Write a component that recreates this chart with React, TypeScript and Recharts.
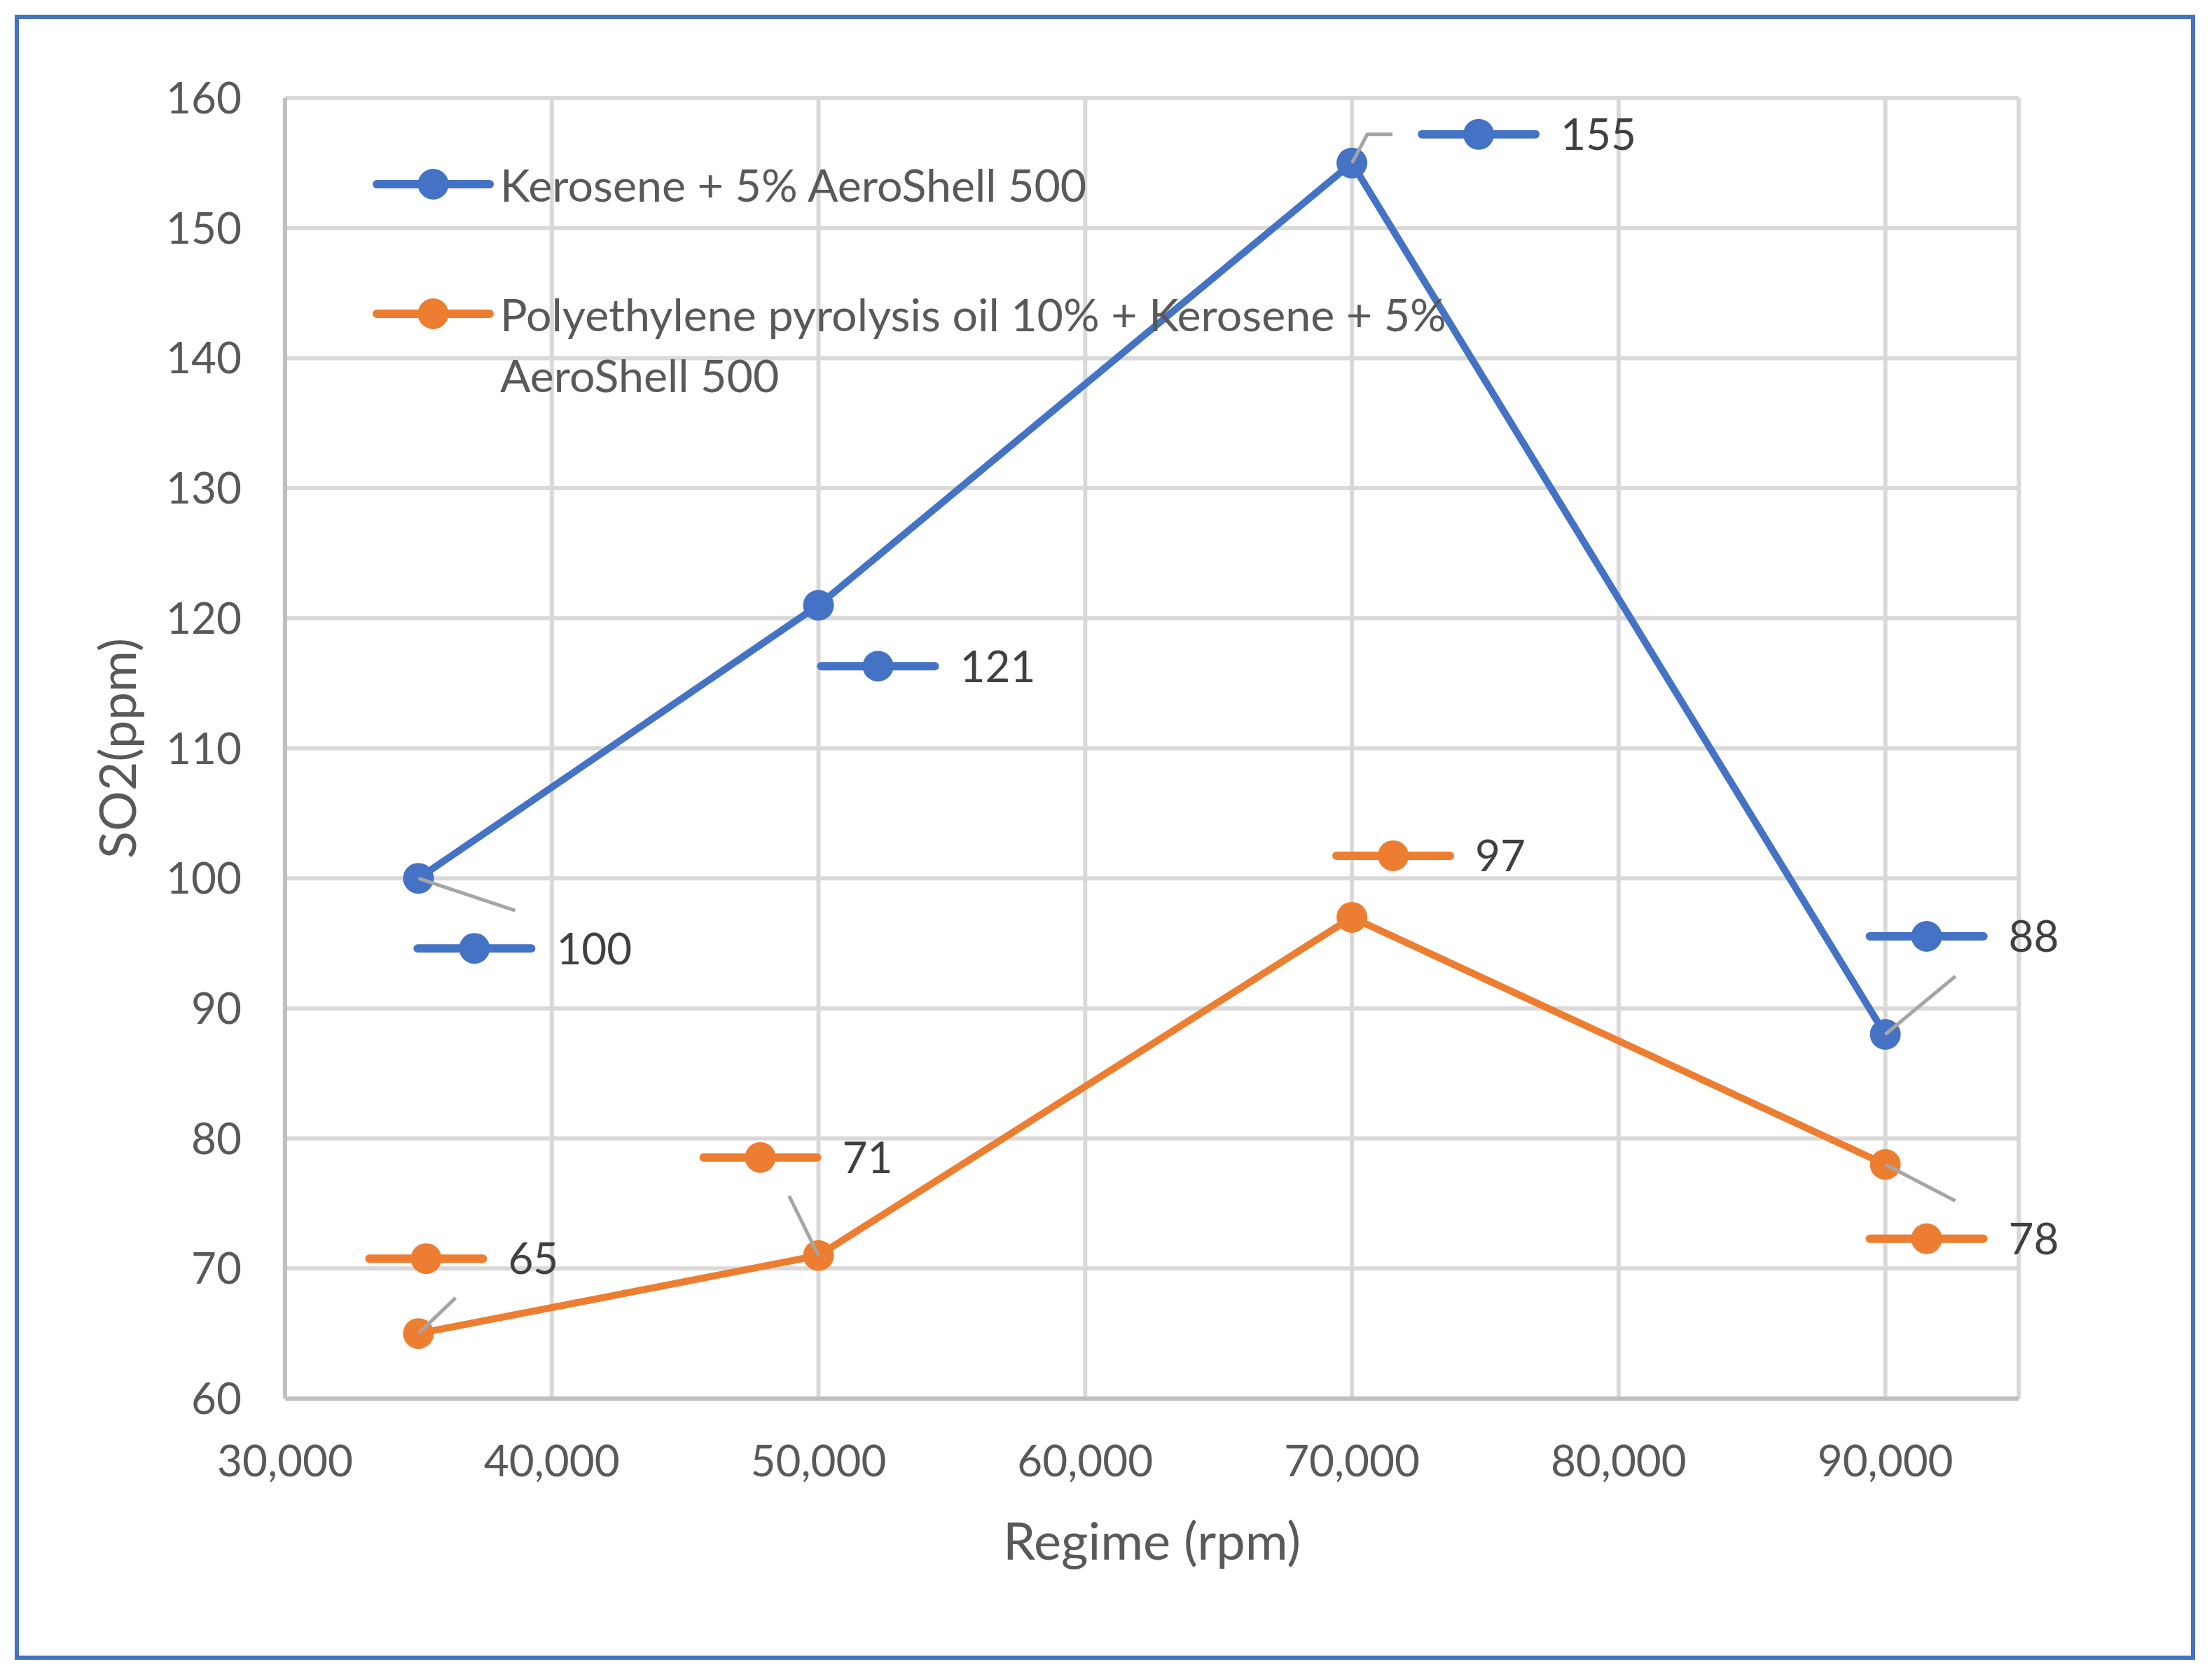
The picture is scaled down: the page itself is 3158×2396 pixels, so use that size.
import React from "react";
import { LineChart, Line, XAxis, YAxis, CartesianGrid, Legend, LabelList } from "recharts";

// values
const rpm = [35000, 50000, 70000, 90000];
const keroseneSO2 = [100, 121, 155, 88];
const pyrolysisSO2 = [65, 71, 97, 78];
const xTicks = [30000, 40000, 50000, 60000, 70000, 80000, 90000];
const yTicks = [60, 70, 80, 90, 100, 110, 120, 130, 140, 150, 160];
const seriesNames = [
  "Kerosene + 5% AeroShell 500",
  "Polyethylene pyrolysis oil 10% + Kerosene + 5% AeroShell 500",
];

const data = rpm.map((r, i) => ({ rpm: r, kerosene: keroseneSO2[i], pyrolysis: pyrolysisSO2[i] }));

const BLUE = "#4472C4";
const ORANGE = "#ED7D31";
const FONT = "Lato, 'Liberation Sans', sans-serif";

// where each data label (key + number) sits relative to its point, plus leader line
const keroseneLabelPos = [
  { dx: 80, dy: 100, leader: [[0, 0], [138, 46]] },
  { dx: 85, dy: 87, leader: null },
  { dx: 181, dy: -41, leader: [[0, 0], [22, -41], [58, -41]] },
  { dx: 59, dy: -140, leader: [[0, 0], [100, -83]] },
];
const pyrolysisLabelPos = [
  { dx: 11, dy: -107, leader: [[0, 0], [53, -51]] },
  { dx: -83, dy: -140, leader: [[0, 0], [-42, -85]] },
  { dx: 59, dy: -88, leader: null },
  { dx: 59, dy: 106, leader: [[0, 0], [100, 52]] },
];

function makeDataLabel(color: string, pos: any[]) {
  return (props: any) => {
    const { x, y, value, index } = props;
    const p = pos[index];
    if (!p || x == null || y == null) return null;
    const cx = x + p.dx;
    const cy = y + p.dy;
    return (
      <g>
        {p.leader && (
          <polyline
            points={p.leader.map(([a, b]: number[]) => `${x + a},${y + b}`).join(" ")}
            fill="none"
            stroke="#A5A5A5"
            strokeWidth={5}
          />
        )}
        <line x1={cx - 81} x2={cx + 81} y1={cy} y2={cy} stroke={color} strokeWidth={12} strokeLinecap="round" />
        <circle cx={cx} cy={cy} r={22} fill={color} />
        <text x={cx + 117} y={cy} dy="0.36em" fontFamily={FONT} fontSize={62} fill="#404040">
          {value}
        </text>
      </g>
    );
  };
}

const renderLegend = (props: any) => {
  const { payload } = props;
  const centers = [263, 448];
  return (
    <div style={{ position: "relative" }}>
      {(payload || []).map((entry: any, i: number) => (
        <React.Fragment key={i}>
          <svg
            width={177}
            height={60}
            style={{ position: "absolute", left: 530, top: centers[i] - 30 }}
          >
            <line x1={8} x2={169} y1={30} y2={30} stroke={entry.color} strokeWidth={12} strokeLinecap="round" />
            <circle cx={88.5} cy={30} r={22} fill={entry.color} />
          </svg>
          <div
            style={{
              position: "absolute",
              left: 714,
              top: centers[i] - 43.5,
              width: 1480,
              fontFamily: FONT,
              fontSize: 64.5,
              lineHeight: "87px",
              color: "#595959",
              textAlign: "left",
              whiteSpace: "normal",
            }}
          >
            {entry.value}
          </div>
        </React.Fragment>
      ))}
    </div>
  );
};

const yTitle = (props: any) => {
  const vb = props.viewBox;
  const cx = vb.x + 168;
  const cy = vb.y + vb.height / 2;
  return (
    <text
      x={cx}
      y={cy}
      dy="0.36em"
      textAnchor="middle"
      transform={`rotate(-90, ${cx}, ${cy})`}
      fontFamily={FONT}
      fontSize={72}
      fill="#595959"
    >
      SO2(ppm)
    </text>
  );
};

const xTitle = (props: any) => {
  const vb = props.viewBox;
  return (
    <text
      x={vb.x + vb.width / 2}
      y={vb.y + 230}
      textAnchor="middle"
      fontFamily={FONT}
      fontSize={74}
      fill="#595959"
    >
      Regime (rpm)
    </text>
  );
};

export default function App() {
  const tickStyle = { fill: "#595959", fontSize: 62, fontFamily: FONT };
  return (
    <div style={{ position: "absolute", left: 0, top: 0, width: 3158, height: 2396, background: "#fff" }}>
      <LineChart
        width={3158}
        height={2396}
        data={data}
        margin={{ top: 140, right: 276, bottom: 139, left: 0 }}
      >
        <CartesianGrid stroke="#D9D9D9" strokeWidth={6} />
        <XAxis
          dataKey="rpm"
          type="number"
          domain={[30000, 95000]}
          ticks={xTicks}
          interval={0}
          height={260}
          tickLine={false}
          tickSize={0}
          tickMargin={67}
          axisLine={{ stroke: "#BFBFBF", strokeWidth: 6 }}
          tick={tickStyle}
          tickFormatter={(v: number) => v.toLocaleString("en-US")}
          label={xTitle}
        />
        <YAxis
          type="number"
          domain={[60, 160]}
          ticks={yTicks}
          interval={0}
          width={407}
          tickLine={false}
          tickSize={0}
          tickMargin={62}
          axisLine={{ stroke: "#BFBFBF", strokeWidth: 6 }}
          tick={tickStyle}
          label={yTitle}
        />
        <Legend
          layout="vertical"
          align="center"
          verticalAlign="middle"
          content={renderLegend}
          wrapperStyle={{ left: 0, top: 0, width: 2400, height: 10 }}
        />
        <Line
          type="linear"
          dataKey="kerosene"
          name={seriesNames[0]}
          stroke={BLUE}
          strokeWidth={10}
          dot={{ r: 22, fill: BLUE, stroke: BLUE, strokeWidth: 0 }}
          activeDot={false}
          isAnimationActive={false}
        >
          <LabelList dataKey="kerosene" content={makeDataLabel(BLUE, keroseneLabelPos)} />
        </Line>
        <Line
          type="linear"
          dataKey="pyrolysis"
          name={seriesNames[1]}
          stroke={ORANGE}
          strokeWidth={10}
          dot={{ r: 22, fill: ORANGE, stroke: ORANGE, strokeWidth: 0 }}
          activeDot={false}
          isAnimationActive={false}
        >
          <LabelList dataKey="pyrolysis" content={makeDataLabel(ORANGE, pyrolysisLabelPos)} />
        </Line>
      </LineChart>
      <div
        style={{
          position: "absolute",
          left: 21,
          top: 21,
          width: 3113,
          height: 2349,
          border: "6px solid #4472C4",
          boxSizing: "border-box",
          pointerEvents: "none",
        }}
      />
    </div>
  );
}
